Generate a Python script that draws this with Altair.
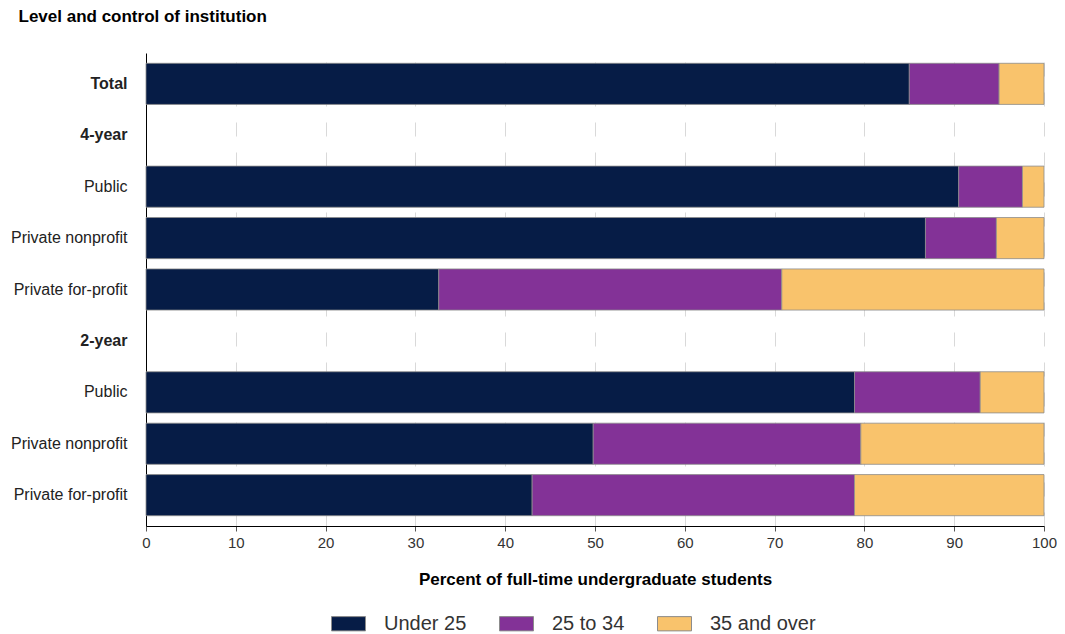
import altair as alt
import pandas as pd

# Row keys (unique) and their display labels
row_keys = ["0|Total", "1|4-year", "2|Public", "3|Private nonprofit", "4|Private for-profit",
            "5|2-year", "6|Public", "7|Private nonprofit", "8|Private for-profit"]
header_keys = ["0|Total", "1|4-year", "5|2-year"]

# Rows that carry bars
bar_rows = ["0|Total", "2|Public", "3|Private nonprofit", "4|Private for-profit",
            "6|Public", "7|Private nonprofit", "8|Private for-profit"]
under_25 = [85, 90.5, 86.8, 32.6, 78.9, 49.8, 43.0]
age_25_34 = [10, 7.1, 7.9, 38.2, 14.0, 29.8, 35.9]
age_35_over = [5, 2.4, 5.3, 29.2, 7.1, 20.4, 21.1]

age_groups = ["Under 25", "25 to 34", "35 and over"]
colors = ["#061c46", "#833297", "#f9c36c"]

records = []
for i, key in enumerate(bar_rows):
    for j, (grp, vals) in enumerate(zip(age_groups, [under_25, age_25_34, age_35_over])):
        records.append({"row": key, "group": grp, "order": j, "value": vals[i]})
df = pd.DataFrame(records)

header_test = "indexof(" + str(header_keys) + ", datum.value) >= 0"

chart = alt.Chart(df).mark_bar(stroke="#8c8c8c", strokeWidth=0.8).encode(
    x=alt.X("value:Q", stack="zero",
            scale=alt.Scale(domain=[0, 100], nice=False),
            axis=alt.Axis(title="Percent of full-time undergraduate students",
                          values=list(range(0, 101, 10)),
                          grid=True, gridDash=[14, 16], gridColor="#d9d9d9",
                          domainColor="#000", domainWidth=1,
                          tickColor="#555", tickSize=5,
                          labelFontSize=15, labelColor="#333", labelPadding=4,
                          labelFlush=False,
                          labelFont="Liberation Sans",
                          titleFont="Liberation Sans", titleFontSize=17, titleFontWeight="bold",
                          titleColor="#000", titlePadding=21)),
    y=alt.Y("row:N", sort=row_keys,
            scale=alt.Scale(domain=row_keys, paddingInner=0.2, paddingOuter=0.2),
            axis=alt.Axis(title=None, ticks=False, grid=False,
                          domainColor="#000", domainWidth=1,
                          labelExpr="split(datum.value, '|')[1]",
                          labelFont="Liberation Sans", labelFontSize=16, labelColor="#222",
                          labelFontWeight={"condition": {"test": header_test, "value": "bold"}, "value": "normal"},
                          labelPadding=19)),
    color=alt.Color("group:N", sort=age_groups,
                    scale=alt.Scale(domain=age_groups, range=colors),
                    legend=alt.Legend(title=None, orient="none", direction="horizontal",
                                      legendX=185, legendY=553,
                                      symbolType="M-1,-0.42L1,-0.42L1,0.42L-1,0.42Z",
                                      symbolSize=1156, symbolStrokeColor="#8c8c8c",
                                      symbolStrokeWidth=1, symbolOpacity=1,
                                      labelFont="Liberation Sans", labelFontSize=20,
                                      labelColor="#333", labelOffset=18,
                                      columnPadding=30)),
    order=alt.Order("order:Q"),
).properties(
    width=898, height=473,
    padding={"left": 2, "top": 0, "right": 0, "bottom": 0},
    title=alt.TitleParams("Level and control of institution", anchor="start", frame="bounds",
                          font="Liberation Sans", fontSize=17, fontWeight="bold",
                          color="#000", offset=27, dx=8),
).configure_view(stroke=None)

chart.save("out.html", embed_options={"renderer": "svg", "actions": False})
